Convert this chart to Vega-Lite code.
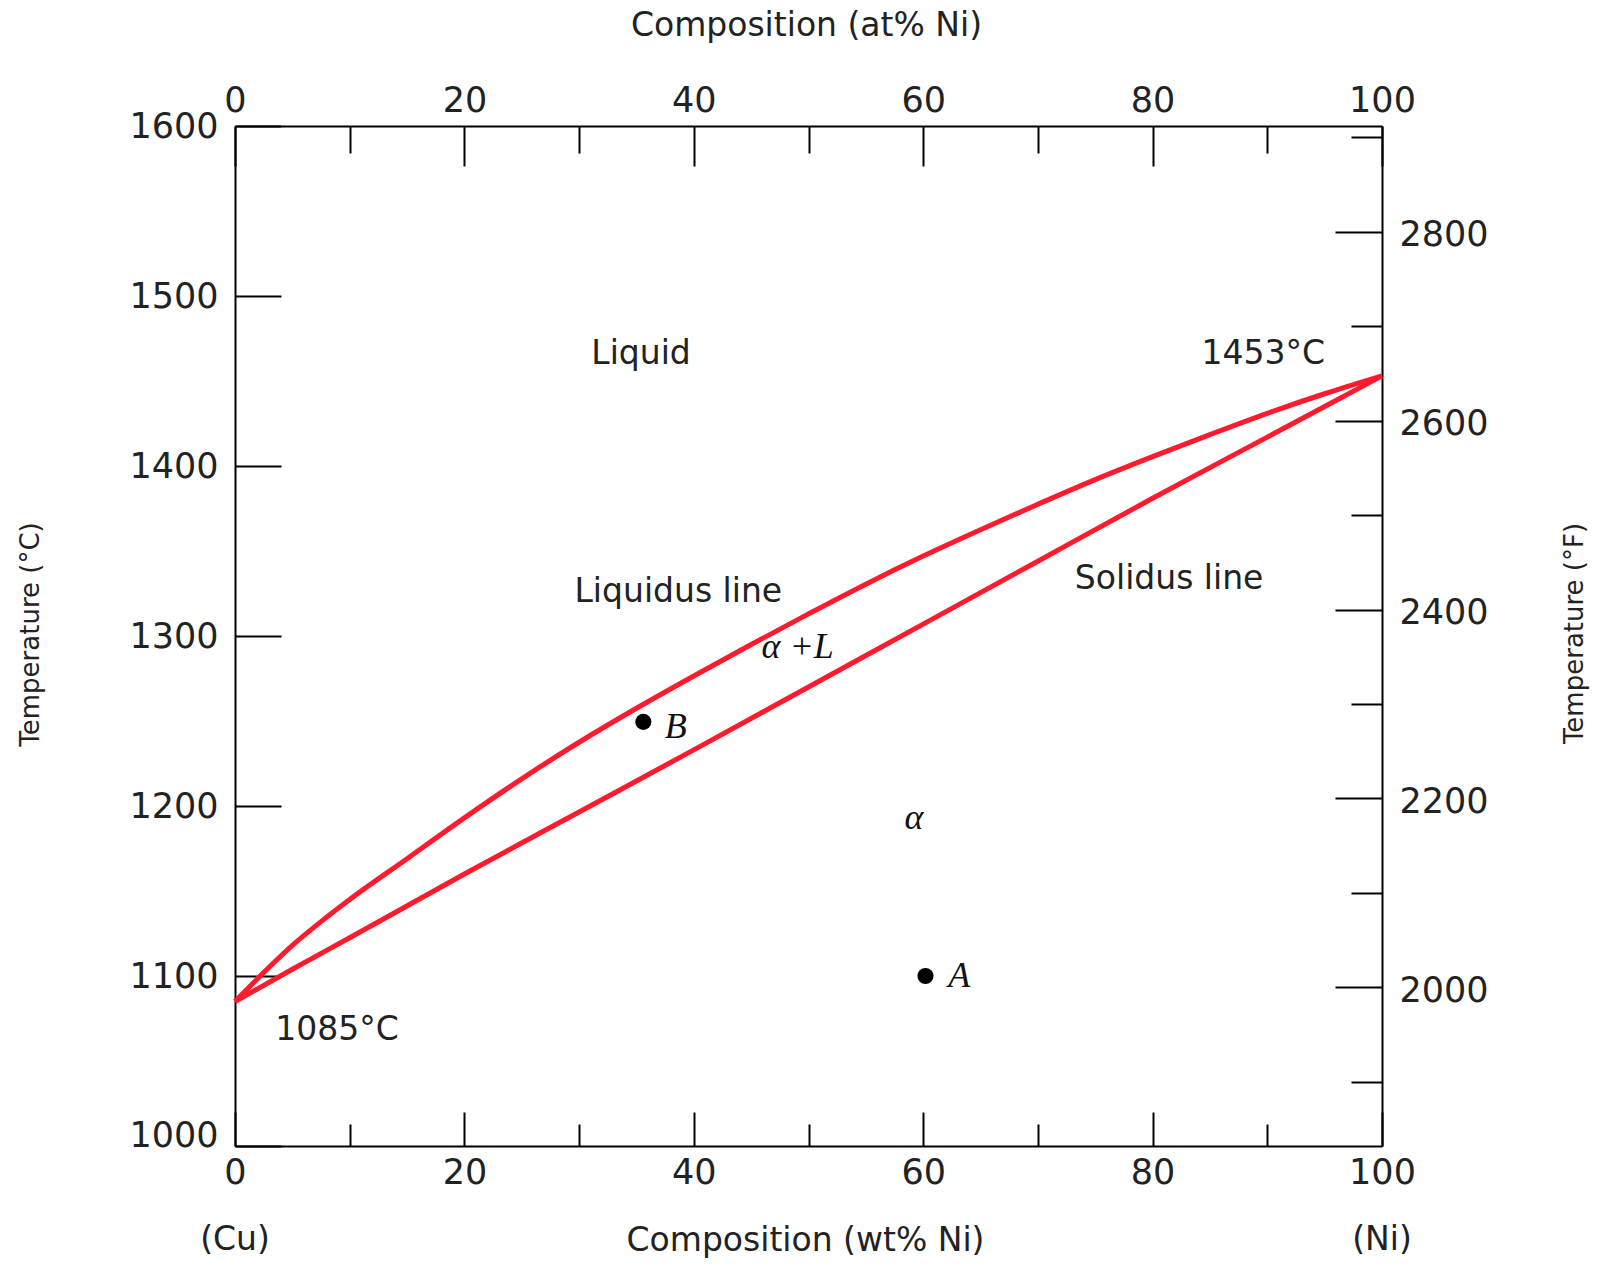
{
  "$schema": "https://vega.github.io/schema/vega-lite/v6.json",
  "width": 1147,
  "height": 1020,
  "autosize": {"type": "none"},
  "padding": {"left": 235, "top": 126, "right": 232, "bottom": 123},
  "background": "white",
  "config": {
    "view": {"stroke": null},
    "font": "DejaVu Sans",
    "axis": {
      "grid": false,
      "domainColor": "#000",
      "domainWidth": 2,
      "tickColor": "#000",
      "tickWidth": 2,
      "labelFont": "DejaVu Sans",
      "labelFontSize": 35,
      "labelColor": "#222",
      "titleFont": "DejaVu Sans",
      "titleFontWeight": "normal",
      "titleColor": "#222",
      "titleFontSize": 33,
      "labelFlush": false,
      "labelOverlap": false
    }
  },
  "datasets": {
    "curves": [
      {"series": "Liquidus", "wt": 0, "T": 1085},
      {"series": "Liquidus", "wt": 2.5, "T": 1102},
      {"series": "Liquidus", "wt": 5, "T": 1118},
      {"series": "Liquidus", "wt": 7.5, "T": 1132},
      {"series": "Liquidus", "wt": 10, "T": 1145},
      {"series": "Liquidus", "wt": 15, "T": 1169},
      {"series": "Liquidus", "wt": 20, "T": 1193},
      {"series": "Liquidus", "wt": 25, "T": 1216},
      {"series": "Liquidus", "wt": 30, "T": 1237.5},
      {"series": "Liquidus", "wt": 35, "T": 1257.5},
      {"series": "Liquidus", "wt": 40, "T": 1276.5},
      {"series": "Liquidus", "wt": 45, "T": 1295},
      {"series": "Liquidus", "wt": 50, "T": 1313},
      {"series": "Liquidus", "wt": 55, "T": 1330.5},
      {"series": "Liquidus", "wt": 60, "T": 1347},
      {"series": "Liquidus", "wt": 65, "T": 1362.5},
      {"series": "Liquidus", "wt": 70, "T": 1377.5},
      {"series": "Liquidus", "wt": 75, "T": 1392},
      {"series": "Liquidus", "wt": 80, "T": 1405.5},
      {"series": "Liquidus", "wt": 85, "T": 1418.5},
      {"series": "Liquidus", "wt": 90, "T": 1431},
      {"series": "Liquidus", "wt": 95, "T": 1442.5},
      {"series": "Liquidus", "wt": 100, "T": 1453},
      {"series": "Solidus", "wt": 0, "T": 1085},
      {"series": "Solidus", "wt": 5, "T": 1104},
      {"series": "Solidus", "wt": 10, "T": 1122.5},
      {"series": "Solidus", "wt": 20, "T": 1160},
      {"series": "Solidus", "wt": 30, "T": 1196.5},
      {"series": "Solidus", "wt": 40, "T": 1233},
      {"series": "Solidus", "wt": 50, "T": 1270},
      {"series": "Solidus", "wt": 60, "T": 1307},
      {"series": "Solidus", "wt": 70, "T": 1344},
      {"series": "Solidus", "wt": 80, "T": 1381},
      {"series": "Solidus", "wt": 90, "T": 1417},
      {"series": "Solidus", "wt": 100, "T": 1453}
    ],
    "points": [
      {"label": "A", "wt": 60.2, "T": 1100},
      {"label": "B", "wt": 35.6, "T": 1249.5}
    ],
    "sansText": [
      {"label": "Liquid", "wt": 35.4, "T": 1460.2},
      {"label": "1453°C", "wt": 89.65, "T": 1459.8},
      {"label": "Liquidus line", "wt": 38.65, "T": 1320},
      {"label": "Solidus line", "wt": 81.44, "T": 1327.5},
      {"label": "1085°C", "wt": 8.9, "T": 1062.6},
      {"label": "(Cu)", "wt": 0, "T": 938.6},
      {"label": "(Ni)", "wt": 100, "T": 938.6}
    ],
    "serifText": [
      {"label": "α +L", "wt": 49.05, "T": 1287.3},
      {"label": "α", "wt": 59.2, "T": 1186.7},
      {"label": "B", "wt": 38.43, "T": 1240.2},
      {"label": "A", "wt": 63.15, "T": 1093.5}
    ]
  },
  "layer": [
    {
      "data": {"name": "curves"},
      "mark": {"type": "line", "color": "#ff1a2e", "strokeWidth": 5, "interpolate": "monotone"},
      "encoding": {
        "x": {
          "field": "wt", "type": "quantitative",
          "scale": {"domain": [0, 100], "nice": false, "zero": false},
          "axis": {
            "orient": "bottom",
            "values": [0, 10, 20, 30, 40, 50, 60, 70, 80, 90, 100],
            "tickSize": {"condition": {"test": "datum.value % 20 === 0", "value": -34}, "value": -22},
            "labelExpr": "datum.value % 20 === 0 ? datum.label : ''",
            "labelPadding": 71.6,
            "labelBaseline": "alphabetic",
            "title": "Composition (wt% Ni)",
            "titleX": 570,
            "titleY": 104,
            "titleAngle": 0,
            "titleAlign": "center",
            "titleBaseline": "alphabetic"
          }
        },
        "y": {
          "field": "T", "type": "quantitative",
          "scale": {"domain": [1000, 1600], "nice": false, "zero": false},
          "axis": {
            "orient": "left",
            "values": [1000, 1100, 1200, 1300, 1400, 1500, 1600],
            "format": "d",
            "tickSize": -46,
            "labelPadding": 63,
            "labelBaseline": {"condition": {"test": "datum.value === 1000", "value": "alphabetic"}, "value": "middle"},
            "title": "Temperature (°C)",
            "titleFontSize": 26,
            "titleX": -205,
            "titleY": 508,
            "titleAngle": 270,
            "titleAlign": "center",
            "titleBaseline": "middle"
          }
        },
        "detail": {"field": "series"}
      }
    },
    {
      "data": {"name": "points"},
      "mark": {"type": "point", "filled": true, "color": "#000", "opacity": 1, "size": 260},
      "encoding": {
        "x": {
          "field": "wt", "type": "quantitative",
          "scale": {"domain": [0, 100], "nice": false, "zero": false},
          "axis": {
            "orient": "top",
            "values": [0, 10, 20, 30, 40, 50, 60, 70, 80, 90, 100],
            "tickSize": {"condition": {"test": "datum.value % 20 === 0", "value": -40}, "value": -27},
            "labelExpr": "datum.value % 20 === 0 ? datum.label : ''",
            "labelPadding": 55,
            "labelBaseline": "alphabetic",
            "title": "Composition (at% Ni)",
            "titleX": 571,
            "titleY": -91,
            "titleAngle": 0,
            "titleAlign": "center",
            "titleBaseline": "alphabetic"
          }
        },
        "y": {
          "field": "T", "type": "quantitative",
          "scale": {"domain": [1000, 1600], "nice": false, "zero": false},
          "axis": {
            "orient": "right",
            "values": [1037.7778, 1093.3333, 1148.8889, 1204.4444, 1260, 1315.5556, 1371.1111, 1426.6667, 1482.2222, 1537.7778, 1593.3333],
            "tickSize": {"condition": {"test": "round(datum.value * 1.8 + 32) % 200 === 0", "value": -47}, "value": -31},
            "labelExpr": "round(datum.value * 1.8 + 32) % 200 === 0 ? format(round(datum.value * 1.8 + 32), 'd') : ''",
            "labelPadding": 64,
            "labelOffset": 3,
            "labelBaseline": "middle",
            "title": "Temperature (°F)",
            "titleFontSize": 26,
            "titleX": 192,
            "titleY": 507,
            "titleAngle": 270,
            "titleAlign": "center",
            "titleBaseline": "middle"
          }
        }
      }
    },
    {
      "data": {"name": "sansText"},
      "mark": {"type": "text", "font": "DejaVu Sans", "fontSize": 33, "color": "#222", "align": "center", "baseline": "alphabetic"},
      "encoding": {
        "x": {"field": "wt", "type": "quantitative", "scale": {"domain": [0, 100], "nice": false, "zero": false}, "axis": null},
        "y": {"field": "T", "type": "quantitative", "scale": {"domain": [1000, 1600], "nice": false, "zero": false}, "axis": null},
        "text": {"field": "label"}
      }
    },
    {
      "data": {"name": "serifText"},
      "mark": {"type": "text", "font": "Liberation Serif", "fontStyle": "italic", "fontSize": 36, "color": "#111", "align": "center", "baseline": "alphabetic"},
      "encoding": {
        "x": {"field": "wt", "type": "quantitative", "scale": {"domain": [0, 100], "nice": false, "zero": false}, "axis": null},
        "y": {"field": "T", "type": "quantitative", "scale": {"domain": [1000, 1600], "nice": false, "zero": false}, "axis": null},
        "text": {"field": "label"}
      }
    }
  ],
  "resolve": {"axis": {"x": "independent", "y": "independent"}}
}
